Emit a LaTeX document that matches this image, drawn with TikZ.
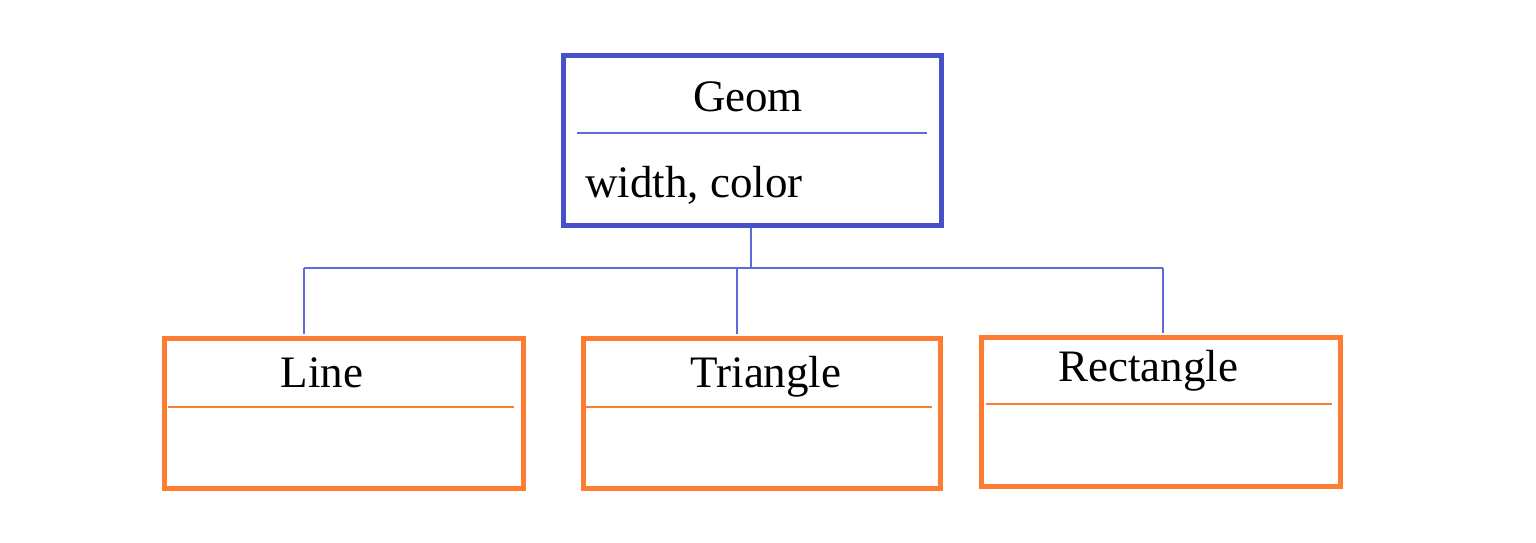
\documentclass[tikz,border=0pt]{standalone}
\usepackage{fontspec}
\setmainfont{Liberation Serif}
\definecolor{geomblue}{RGB}{70,80,200}
\definecolor{linkblue}{RGB}{95,105,215}
\definecolor{boxorange}{RGB}{255,125,50}
\begin{document}
\begin{tikzpicture}[x=1pt,y=-1pt,
  geombox/.style={draw=geomblue,line width=5pt,inner sep=0pt,outer sep=0pt},
  subbox/.style={draw=boxorange,line width=5pt,inner sep=0pt,outer sep=0pt},
  geomdiv/.style={draw=linkblue,line width=1.5pt},
  subdiv/.style={draw=boxorange,line width=1.5pt},
  link/.style={draw=linkblue,line width=1.5pt},
  lbl/.style={inner sep=0pt,font=\fontsize{45}{54}\selectfont,text=black}]
\useasboundingbox (0,0) rectangle (1536,542);
% boxes
\node[geombox,minimum width=377.5pt,minimum height=170pt] (geom) at (752.25,140.5) {};
\node[subbox,minimum width=359pt,minimum height=149.5pt] (line) at (343.5,413.25) {};
\node[subbox,minimum width=357pt,minimum height=149.5pt] (tri) at (761.5,413.25) {};
\node[subbox,minimum width=359pt,minimum height=149pt] (rect) at (1160.5,411.5) {};
% dividers
\draw[geomdiv] (577,133) -- (927,133);
\draw[subdiv] (168,407) -- (514,407);
\draw[subdiv] (586,407) -- (932,407);
\draw[subdiv] (986,404) -- (1332,404);
% texts
\node[lbl,anchor=base] (geomname) at (748,111) {Geom};
\node[lbl,anchor=base west] (geomattr) at (585,197) {width, color};
\node[lbl,anchor=base] (linename) at (322,387) {Line};
\node[lbl,anchor=base] (triname) at (766,387) {Triangle};
\node[lbl,anchor=base] (rectname) at (1148,381) {Rectangle};
% connectors
\coordinate (geomout) at (751,228);
\coordinate (bus) at (751,268);
\coordinate (busL) at (304,268);
\coordinate (busT) at (737,268);
\coordinate (busR) at (1163,268);
\coordinate (lineIn) at (304,334);
\coordinate (triIn) at (737,334);
\coordinate (rectIn) at (1163,333);
\draw[link] (geomout) -- (bus);
\draw[link] (busL) -- (busR);
\draw[link] (busL) -- (lineIn);
\draw[link] (busT) -- (triIn);
\draw[link] (busR) -- (rectIn);
\end{tikzpicture}
\end{document}
